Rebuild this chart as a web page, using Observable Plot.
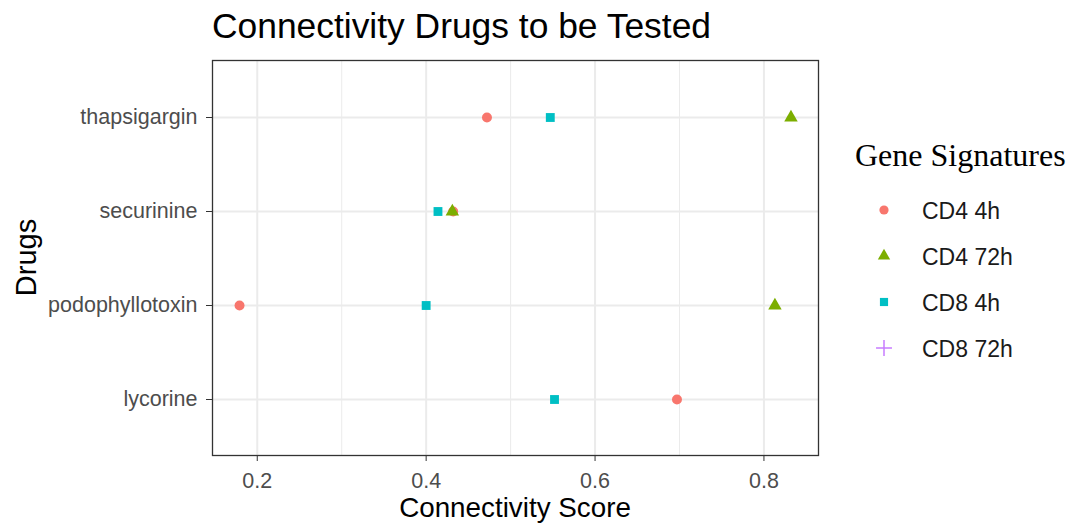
<!DOCTYPE html>
<html>
<head>
<meta charset="utf-8">
<script src="https://cdn.jsdelivr.net/npm/d3@7"></script>
<script src="https://cdn.jsdelivr.net/npm/@observablehq/plot@0.6"></script>
<style>
  html, body { margin: 0; padding: 0; background: #fff; }
  #wrap { position: relative; width: 1076px; height: 523px; overflow: hidden; background: #fff; }
  #plot { position: absolute; left: 0; top: 59px; }
  #overlay { position: absolute; left: 0; top: 0; pointer-events: none; }
  #plot g[aria-label$="tick label"] text { fill: #4d4d4d; }
  #plot g[aria-label$="tick"] { stroke: #333; }
</style>
</head>
<body>
<div id="wrap">
  <div id="plot"></div>
  <svg id="overlay" width="1076" height="523"></svg>
</div>
<script>
// ---- data ----
const drugs = ["thapsigargin", "securinine", "podophyllotoxin", "lycorine"];
const series = ["CD4 4h", "CD4 72h", "CD8 4h", "CD8 72h"];
const cd4_4h  = [0.472, 0.432, 0.179, 0.697];
const cd4_72h = [0.832, 0.431, 0.813, null];
const cd8_4h  = [0.547, 0.414, 0.400, 0.552];
const cd8_72h = [null, null, null, null];
const xTicks = [0.2, 0.4, 0.6, 0.8];
const xMinorTicks = [0.3, 0.5, 0.7];
const seriesColors = ["#F8766D", "#7CAE00", "#00BFC4", "#C77CFF"];
const seriesSymbols = ["circle", "triangle", "square", "plus"];
const titleText = "Connectivity Drugs to be Tested";
const xTitle = "Connectivity Score";
const yTitle = "Drugs";
const legendTitle = "Gene Signatures";

const values = [cd4_4h, cd4_72h, cd8_4h, cd8_72h];
const data = [];
series.forEach((s, j) => drugs.forEach((d, i) => {
  const v = values[j][i];
  if (v != null) data.push({drug: d, series: s, score: v});
}));

const plot = Plot.plot({
  width: 1076,
  height: 464,
  marginTop: 1,
  marginBottom: 68,
  marginLeft: 212,
  marginRight: 258,
  style: {fontFamily: "Liberation Sans, Arial, sans-serif", background: "white", color: "#333"},
  x: {domain: [0.147, 0.8646]},
  y: {type: "point", domain: drugs, padding: 0.6},
  color: {domain: series, range: seriesColors},
  symbol: {domain: series, range: seriesSymbols},
  marks: [
    Plot.gridX(xMinorTicks, {stroke: "#ebebeb", strokeOpacity: 1, strokeWidth: 1}),
    Plot.gridX(xTicks, {stroke: "#ebebeb", strokeOpacity: 1, strokeWidth: 2}),
    Plot.gridY(drugs, {stroke: "#ebebeb", strokeOpacity: 1, strokeWidth: 2}),
    Plot.axisX(xTicks, {tickSize: 6, tickPadding: 11, fontSize: 21.5, label: null, tickFormat: d3.format(".1f")}),
    Plot.axisY(drugs, {tickSize: 6, tickPadding: 9, fontSize: 21.5, label: null}),
    Plot.dot(data, {x: "score", y: "drug", fill: "series", symbol: "series", stroke: "none", r: 5}),
    Plot.frame({stroke: "#333", strokeWidth: 1.3})
  ]
});
document.getElementById("plot").appendChild(plot);

// ---- overlay texts and legend ----
const svg = d3.select("#overlay");
const sans = "Liberation Sans, Arial, sans-serif";
svg.append("text").attr("x", 212).attr("y", 38)
  .attr("font-family", sans).attr("font-size", 35.4).attr("fill", "#000").text(titleText);
svg.append("text").attr("x", 515).attr("y", 517).attr("text-anchor", "middle")
  .attr("font-family", sans).attr("font-size", 27.8).attr("fill", "#000").text(xTitle);
svg.append("text").attr("transform", "translate(36,257.5) rotate(-90)").attr("text-anchor", "middle")
  .attr("font-family", sans).attr("font-size", 29).attr("fill", "#000").text(yTitle);

svg.append("text").attr("x", 855).attr("y", 166)
  .attr("font-family", "Liberation Serif, Times New Roman, serif").attr("font-size", 32).attr("fill", "#000").text(legendTitle);

const colorScale = plot.scale("color");
const symbolScale = plot.scale("symbol");
const symMap = {circle: d3.symbolCircle, triangle: d3.symbolTriangle, square: d3.symbolSquare, plus: d3.symbolPlus};
series.forEach((s, i) => {
  const cy = 210 + i * 46;
  let type;
  try { type = symbolScale.apply(s); } catch (e) { type = null; }
  if (!type || typeof type.draw !== "function") type = symMap[seriesSymbols[i]];
  const isPlus = type === d3.symbolPlus;
  const size = isPlus ? 85 : Math.PI * 4.6 * 4.6;
  const col = colorScale.apply(s);
  svg.append("path")
    .attr("transform", `translate(884,${cy})`)
    .attr("d", d3.symbol(type, size)())
    .attr("fill", isPlus ? "none" : col)
    .attr("stroke", isPlus ? col : "none")
    .attr("stroke-width", isPlus ? 1.5 : 0);
  svg.append("text").attr("x", 922).attr("y", cy + 9)
    .attr("font-family", sans).attr("font-size", 23).attr("fill", "#1a1a1a").text(s);
});
</script>
</body>
</html>
